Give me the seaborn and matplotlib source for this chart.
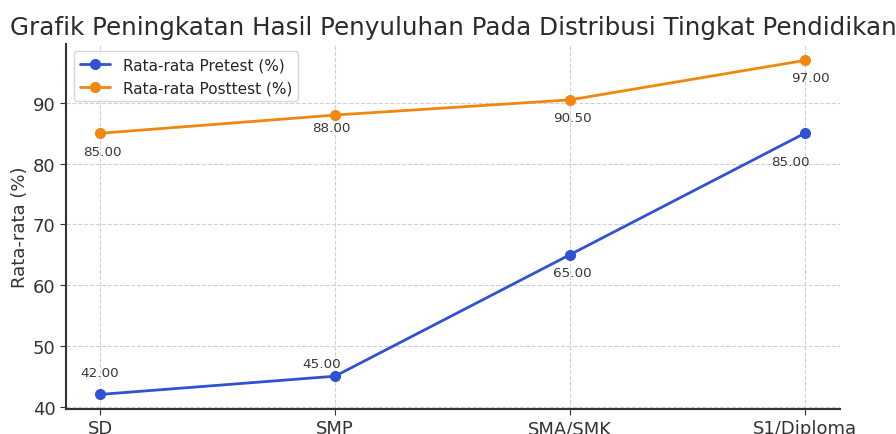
import matplotlib
matplotlib.use("Agg")
import matplotlib.pyplot as plt
import seaborn as sns
import pandas as pd

categories = ["SD", "SMP", "SMA/SMK", "S1/Diploma"]
pretest = [42.0, 45.0, 65.0, 85.0]
posttest = [85.0, 88.0, 90.5, 97.0]
series_names = ["Rata-rata Pretest (%)", "Rata-rata Posttest (%)"]
title = "Grafik Peningkatan Hasil Penyuluhan Pada Distribusi Tingkat Pendidikan"
ylabel = "Rata-rata (%)"

sns.set_style("ticks")
plt.rcParams['font.family'] = ['DejaVu Sans']

df = pd.DataFrame({
    "Pendidikan": categories * 2,
    "Nilai": pretest + posttest,
    "Seri": [series_names[0]] * 4 + [series_names[1]] * 4,
})

fig = plt.figure(figsize=(8.96, 4.35), dpi=100)
ax = fig.add_axes([66 / 896, 25 / 435, (840 - 66) / 896, (410 - 44.7) / 435])

colors = {series_names[0]: "#3052d2", series_names[1]: "#f0870f"}
sns.lineplot(data=df, x="Pendidikan", y="Nilai", hue="Seri", palette=colors,
             marker="o", markersize=8, markeredgewidth=0, linewidth=2,
             sort=False, ax=ax)

ax.set_ylim(39.6, 99.75)
ax.set_xlim(-0.145, 3.15)

# label placement (pixel offsets from each point; +y up)
pre_off = [(0, 22), (-13, 13), (2, -18), (-14, -28)]
post_off = [(2, -18), (-4, -12), (3, -18), (6, -17)]
px2pt = 72 / 100
for i, v in enumerate(pretest):
    dx, dy = pre_off[i]
    ax.annotate(f"{v:.2f}", (i, v), textcoords="offset points",
                xytext=(dx * px2pt, dy * px2pt),
                ha="center", va="center", fontsize=9.7, color="#383838")
for i, v in enumerate(posttest):
    dx, dy = post_off[i]
    ax.annotate(f"{v:.2f}", (i, v), textcoords="offset points",
                xytext=(dx * px2pt, dy * px2pt),
                ha="center", va="center", fontsize=9.7, color="#383838")

ax.grid(True, linestyle="--", color="#d0d0d0", linewidth=0.8)
ax.set_axisbelow(True)
sns.despine(ax=ax, top=True, right=True)
for s in ["left", "bottom"]:
    ax.spines[s].set_color("#333333")
    ax.spines[s].set_linewidth(1.5)

ax.set_yticks([40, 50, 60, 70, 80, 90])
ax.tick_params(axis="both", labelsize=13, colors="#333333", length=4)
ax.set_xlabel("")
ax.set_ylabel(ylabel, fontsize=13, color="#333333", labelpad=3)
ax.set_title(title, fontsize=17.7, color="#2b2b2b", pad=7)

leg = ax.legend(loc="upper left", fontsize=11, frameon=True, title=None)
leg.get_frame().set_edgecolor("#cccccc")

fig.savefig("out.png", dpi=100)
